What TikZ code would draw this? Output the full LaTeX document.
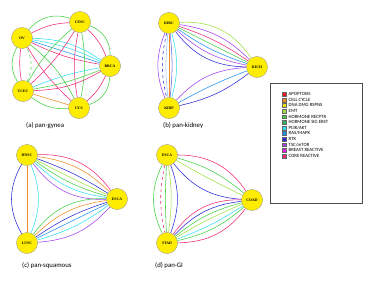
\documentclass[tikz,border=0pt]{standalone}
\usepackage{fontspec}
\newfontfamily\capfont{Carlito}
\newfontfamily\nodefont{Liberation Serif}
\definecolor{cApop}{HTML}{E8141E}
\definecolor{cCell}{HTML}{F08A24}
\definecolor{cDna}{HTML}{E6E014}
\definecolor{cEmt}{HTML}{A0E040}
\definecolor{cHrec}{HTML}{40D040}
\definecolor{cHsig}{HTML}{30B060}
\definecolor{cPi}{HTML}{30E0F0}
\definecolor{cRas}{HTML}{2090F0}
\definecolor{cRtk}{HTML}{2828D8}
\definecolor{cTsc}{HTML}{A040F0}
\definecolor{cBr}{HTML}{E020E0}
\definecolor{cCore}{HTML}{F02878}
\tikzset{
  canc/.style={circle,fill=yellow!95!orange,draw=gray!70,line width=0.3pt,minimum size=21pt,inner sep=0pt,font=\nodefont\bfseries\fontsize{3.8}{4}\selectfont},
  ed/.style={line width=0.55pt},
  captxt/.style={font=\capfont\fontsize{6.8}{7}\selectfont,anchor=west,inner sep=0pt},
  legtxt/.style={font=\capfont\fontsize{4.8}{5}\selectfont,anchor=west,inner sep=0pt},
  legsq/.style={minimum size=3.8pt,inner sep=0pt,draw=black!60,line width=0.2pt}
}
\begin{document}
\begin{tikzpicture}[x=1pt,y=-1pt]
\useasboundingbox (0,0) rectangle (374,282);
% ---------- panel a
\coordinate (OVp) at (22,38);
\coordinate (CEp) at (80,22);
\coordinate (BRp) at (110,66);
\coordinate (UEp) at (23,91);
\coordinate (USp) at (79,108);
\node[canc] (OV) at (OVp) {OV};
\node[canc] (CE) at (CEp) {CESC};
\node[canc] (BR) at (BRp) {BRCA};
\node[canc] (UE) at (UEp) {UCEC};
\node[canc] (US) at (USp) {UCS};
\begin{scope}[ed]
% outer ring
\draw[cHrec] (OV) to[bend left=35] (CE);
\draw[cCore] (OV) to[bend left=12] (CE);
\draw[cHrec] (CE) to[bend left=35] (BR);
\draw[cCore] (CE) to[bend left=12] (BR);
\draw[cHrec] (BR) to[bend left=35] (US);
\draw[cCore] (BR) to[bend left=12] (US);
\draw[cHrec] (US) to[bend left=20] (UE);
\draw[cCell] (US) to (UE);
\draw[cHrec] (UE) to[bend left=30] (OV);
\draw[cHrec,dashed] (UE) to[bend right=25] (OV);
\draw[cCore] (UE) to[bend left=8] (OV);
% diagonals
\draw[cPi] (OV) to[bend left=8] (BR);
\draw[cRas] (OV) to (BR);
\draw[cCore] (OV) to[bend right=8] (BR);
\draw[cPi] (OV) to[bend left=16] (BR);
\draw[cHrec] (OV) to[bend left=12] (US);
\draw[cCore] (OV) to[bend right=8] (US);
\draw[cHrec] (CE) to[bend right=10] (UE);
\draw[cCore] (CE) to[bend left=8] (UE);
\draw[cHrec] (CE) to[bend left=10] (US);
\draw[cCore] (CE) to[bend right=10] (US);
\draw[cPi] (UE) to[bend left=6] (BR);
\draw[cHrec] (UE) to[bend right=6] (BR);
\draw[cCore] (UE) to[bend right=14] (BR);
\end{scope}
\node[canc] at (OVp) {OV};
\node[canc] at (CEp) {CESC};
\node[canc] at (BRp) {BRCA};
\node[canc] at (UEp) {UCEC};
\node[canc] at (USp) {UCS};
\node[captxt] (capa) at (26,126) {(a) pan-gynea};
% ---------- panel b
\node[canc] (KIRC) at (169,23) {KIRC};
\node[canc] (KICH) at (257,67) {KICH};
\node[canc] (KIRP) at (169,108) {KIRP};
\begin{scope}[ed]
\draw[cTsc] (KIRC) to[bend right=22] (KIRP);
\draw[cRtk,dashed] (KIRC) to[bend right=13] (KIRP);
\draw[cRas!50] (KIRC) to[bend right=6] (KIRP);
\draw[cCell] (KIRC) to (KIRP);
\draw[cRtk!70] (KIRC) to[bend left=6] (KIRP);
\draw[cPi] (KIRC) to[bend left=15] (KIRP);
\draw[cEmt] (KIRC) to[bend left=30] (KICH);
\draw[cTsc] (KIRC) to[bend left=18] (KICH);
\draw[cCore] (KIRC) to[bend left=8] (KICH);
\draw[cHrec] (KIRC) to (KICH);
\draw[cRas] (KIRC) to[bend right=8] (KICH);
\draw[cTsc] (KIRC) to[bend right=16] (KICH);
\draw[cRtk] (KIRC) to[bend right=26] (KICH);
\draw[cTsc] (KIRP) to[bend left=22] (KICH);
\draw[cRas] (KIRP) to[bend left=4] (KICH);
\draw[cRtk] (KIRP) to[bend right=12] (KICH);
\end{scope}
\node[canc] at (169,23) {KIRC};
\node[canc] at (257,67) {KICH};
\node[canc] at (169,108) {KIRP};
\node[captxt] (capb) at (163,126) {(b) pan-kidney};
% ---------- panel c
\node[canc] (HNSC) at (27,155) {HNSC};
\node[canc] (ESCAc) at (117,199) {ESCA};
\node[canc] (LUSC) at (27,243) {LUSC};
\begin{scope}[ed]
\draw[cRtk] (HNSC) to[bend right=30] (LUSC);
\draw[cCell] (HNSC) to (LUSC);
\draw[cPi] (HNSC) to[bend left=22] (LUSC);
\draw[cCore] (HNSC) to[bend left=28] (ESCAc);
\draw[cCell] (HNSC) to[bend left=18] (ESCAc);
\draw[cRtk] (HNSC) to[bend left=6] (ESCAc);
\draw[cEmt] (HNSC) to[bend right=2] (ESCAc);
\draw[cHrec] (HNSC) to[bend right=10] (ESCAc);
\draw[cPi] (HNSC) to[bend right=18] (ESCAc);
\draw[cTsc] (HNSC) to[bend right=28] (ESCAc);
\draw[cHrec] (LUSC) to[bend left=28] (ESCAc);
\draw[cCell] (LUSC) to[bend left=18] (ESCAc);
\draw[cRtk] (LUSC) to[bend left=8] (ESCAc);
\draw[cRas] (LUSC) to[bend left=0] (ESCAc);
\draw[cPi] (LUSC) to[bend right=10] (ESCAc);
\draw[cTsc] (LUSC) to[bend right=22] (ESCAc);
\end{scope}
\node[canc] at (27,155) {HNSC};
\node[canc] at (117,199) {ESCA};
\node[canc] at (27,243) {LUSC};
\node[captxt] (capc) at (22,266) {(c) pan-squamous};
% ---------- panel d
\node[canc] (ESCAd) at (167,155) {ESCA};
\node[canc] (COAD) at (252,200) {COAD};
\node[canc] (STAD) at (167,243) {STAD};
\begin{scope}[ed]
\draw[cHrec] (ESCAd) to[bend right=26] (STAD);
\draw[cCore,dashed] (ESCAd) to[bend right=12] (STAD);
\draw[cHrec] (ESCAd) to[bend right=3] (STAD);
\draw[cEmt] (ESCAd) to[bend left=8] (STAD);
\draw[cRtk] (ESCAd) to[bend left=20] (STAD);
\draw[cCore] (ESCAd) to[bend left=28] (COAD);
\draw[cHrec] (ESCAd) to[bend left=12] (COAD);
\draw[cEmt] (ESCAd) to[bend right=2] (COAD);
\draw[cRtk] (ESCAd) to[bend right=24] (COAD);
\draw[cCore] (STAD) to[bend left=28] (COAD);
\draw[cRtk] (STAD) to[bend left=20] (COAD);
\draw[cHrec] (STAD) to[bend left=12] (COAD);
\draw[cEmt] (STAD) to[bend left=4] (COAD);
\draw[cPi] (STAD) to[bend right=6] (COAD);
\draw[cHrec] (STAD) to[bend right=14] (COAD);
\draw[cCore] (STAD) to[bend right=26] (COAD);
\end{scope}
\node[canc] at (167,155) {ESCA};
\node[canc] at (252,200) {COAD};
\node[canc] at (167,243) {STAD};
\node[captxt] (capd) at (155,266) {(d) pan-GI};
% ---------- legend
\node[draw=black!70,line width=0.4pt,minimum width=92pt,minimum height=120pt,inner sep=0pt] (leg) at (316,143) {};
\foreach \c/\t [count=\i] in {cApop/APOPTOSIS,cCell/CELL CYCLE,cDna/DNA DMG RSPNS,cEmt/EMT,cHrec/HORMONE RECPTR,cHsig/HORMONE SIG ERST,cPi/{PI3K/AKT},cRas/{RAS/MAPK},cRtk/RTK,cTsc/{TSC/mTOR},cBr/BREAST REACTIVE,cCore/CORE REACTIVE}{
  \node[legsq,fill=\c] (sq\i) at (284,88.5+5.6*\i) {};
  \node[legtxt] (lt\i) at (288.5,88.5+5.6*\i) {\t};
}
\end{tikzpicture}
\end{document}
